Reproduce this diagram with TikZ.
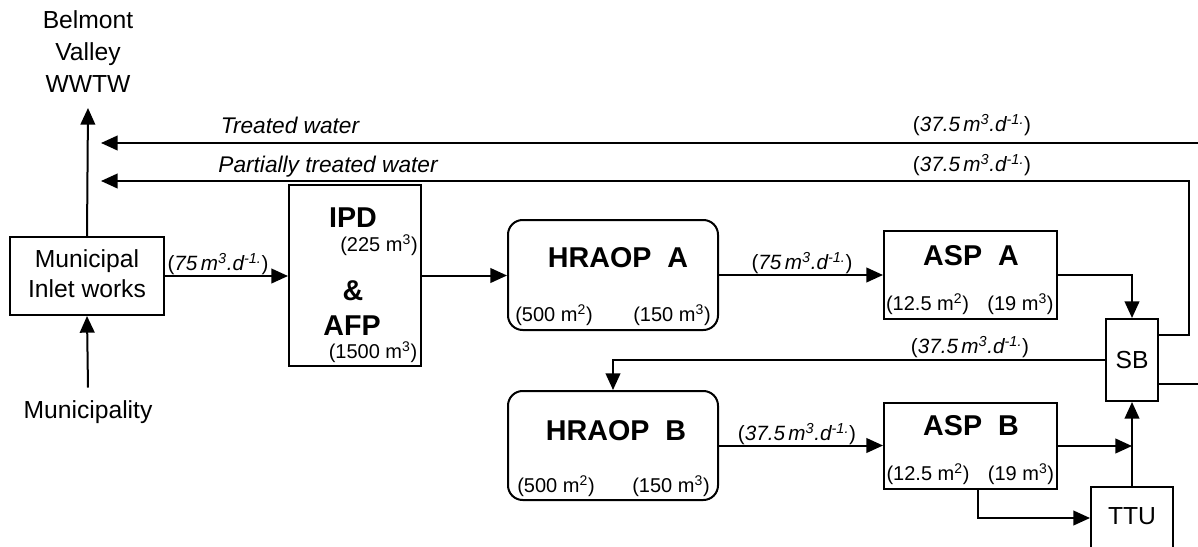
\documentclass[tikz,border=0pt]{standalone}
\usepackage{fontspec}
\setmainfont{Liberation Sans}
\usetikzlibrary{arrows.meta}

% flow rate label, e.g. (75 m3.d-1.)
\newcommand{\flowrate}[1]{(\textit{#1\,m\textsuperscript{3}.d\textsuperscript{-1.}})}

\begin{document}
\begin{tikzpicture}[
  x=0.75pt, y=-0.75pt,
  line width=1.5pt,
  >={Triangle[length=12.5pt,width=11pt]},
  box/.style={draw, line width=1.5pt, inner sep=0pt},
  rbox/.style={box, rounded corners=11pt},
  plain/.style={font=\fontsize{18.5}{24}\selectfont, align=center, inner sep=0pt},
  title/.style={font=\fontsize{21.5}{26}\selectfont\bfseries, inner sep=0pt, anchor=base, text depth=0pt},
  size/.style={font=\fontsize{15}{18}\selectfont, inner sep=0pt, anchor=base},
  rate/.style={font=\fontsize{15.5}{18}\selectfont, inner sep=0pt, anchor=base},
  water/.style={font=\fontsize{17}{20}\selectfont\itshape, inner sep=0pt, anchor=base},
]
\useasboundingbox (0,0) rectangle (1198,546);

% ---- process units ----
\node[box, minimum width=115.5pt, minimum height=58.5pt] (muni) at (87,276)
  {\fontsize{18.5}{22.5}\selectfont\begin{tabular}{@{}c@{}}Municipal\\Inlet works\end{tabular}};
\node[box, minimum width=99pt, minimum height=135.75pt] (ipd) at (355,275.5) {};
\node[rbox, minimum width=157.5pt, minimum height=82.5pt] (hraopA) at (613,275) {};
\node[box, minimum width=129.75pt, minimum height=66pt] (aspA) at (970.5,275) {};
\node[box, minimum width=39pt, minimum height=61.5pt, font=\fontsize{18.5}{22}\selectfont] (sb) at (1132,360) {SB};
\node[rbox, minimum width=157.5pt, minimum height=81.75pt] (hraopB) at (613,445.5) {};
\node[box, minimum width=129.75pt, minimum height=64.5pt] (aspB) at (970.5,446) {};
\node[box, minimum width=61.5pt, minimum height=46.5pt, font=\fontsize{18.5}{22}\selectfont] (ttu) at (1132,518) {\raisebox{3pt}{TTU}};

% ---- sources and destinations ----
\node[plain] (wwtw) at (88,52) {Belmont\\Valley\\WWTW};
\node[plain] (town) at (88,412) {Municipality};
\coordinate (wwtwin) at (88,108);
\coordinate (tw) at (101,143);
\coordinate (ptw) at (101,181);

% ---- texts inside the units ----
\node[title] (tIPD) at (353,227) {IPD};
\node[size] (vIPD) at (379,251) {(225 m\textsuperscript{3})};
\node[title] (tAmp) at (353,300) {\&};
\node[title] (tAFP) at (352,335) {AFP};
\node[size] (vAFP) at (373,358) {(1500 m\textsuperscript{3})};

\node[title] (tHA) at (618,267) {HRAOP\ \ A};
\node[size] (aHA) at (554,321) {(500 m\textsuperscript{2})};
\node[size] (vHA) at (672,321) {(150 m\textsuperscript{3})};

\node[title] (tHB) at (616,440) {HRAOP\ \ B};
\node[size] (aHB) at (556,492) {(500 m\textsuperscript{2})};
\node[size] (vHB) at (671,492) {(150 m\textsuperscript{3})};

\node[title] (tAA) at (971,265) {ASP\ \ A};
\node[size] (aAA) at (927.5,310) {(12.5 m\textsuperscript{2})};
\node[size] (vAA) at (1020.5,310) {(19 m\textsuperscript{3})};

\node[title] (tAB) at (971,435) {ASP\ \ B};
\node[size] (aAB) at (928,480) {(12.5 m\textsuperscript{2})};
\node[size] (vAB) at (1021,480) {(19 m\textsuperscript{3})};

% ---- flow labels ----
\node[water] (lTW) at (290,133) {Treated water};
\node[water] (lPTW) at (328,172) {Partially treated water};
\node[rate] (r1) at (218,270) {\flowrate{75}};
\node[rate] (r2) at (802,269) {\flowrate{75}};
\node[rate] (r3) at (972,131) {\flowrate{37.5}};
\node[rate] (r4) at (972,171) {\flowrate{37.5}};
\node[rate] (r5) at (970,353) {\flowrate{37.5}};
\node[rate] (r6) at (797,440) {\flowrate{37.5}};

% ---- connectors ----
\draw[->] (muni.north) -- (wwtwin);
\draw[->] (town.north) ++(0,-12) -- (muni.south);
\draw[->] (muni.east) -- (muni.east -| ipd.west);
\draw[->] (ipd.east) -- (ipd.east -| hraopA.west);
\draw[->] (hraopA.east) -- (hraopA.east -| aspA.west);
\draw[->] (aspA.east) -| (sb.north);
\draw[->] ([yshift=18.75pt]sb.east) -| (1189,181) -- (ptw);
\draw[->] ([yshift=-18pt]sb.east) -- (1204,384) -- (1204,143) -- (tw);
\draw[->] (sb.west) -| (hraopB.north);
\draw[->] (hraopB.east) -- (hraopB.east -| aspB.west);
\draw[->] (aspB.east) -- (aspB.east -| sb.south);
\draw[->] (ttu.north) -- (sb.south);
\draw[->] ([xshift=5.6pt]aspB.south) |- (ttu.west);
\end{tikzpicture}
\end{document}
